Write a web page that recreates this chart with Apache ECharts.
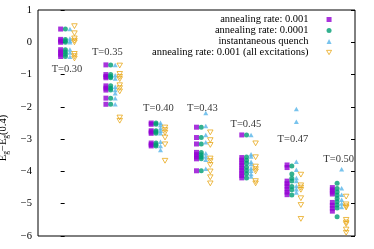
<!DOCTYPE html>
<html>
<head>
<meta charset="utf-8">
<script src="https://cdn.jsdelivr.net/npm/echarts@6/dist/echarts.min.js"></script>
<style>html,body{margin:0;padding:0;background:#fff}#c{width:374px;height:249px}</style>
</head>
<body>
<div id="c"></div>
<script>
// Temperatures (one group each, in order along the x axis)
const temps = ["T=0.30", "T=0.35", "T=0.40", "T=0.43", "T=0.45", "T=0.47", "T=0.50"];
const seriesNames = ["annealing rate: 0.001", "annealing rate: 0.0001", "instantaneous quench", "annealing rate: 0.001 (all excitations)"];
const yTicks = [1, 0, -1, -2, -3, -4, -5, -6];

// E_g - E_g(0.4) values, per temperature group
const rate001 = [
  [0.41, 0.09, 0.04, 0.0, -0.23, -0.3, -0.37, -0.44],
  [-0.7, -1.0, -1.06, -1.1, -1.35, -1.42, -1.48, -1.73, -1.92],
  [-2.5, -2.54, -2.74, -2.78, -2.82, -3.12, -3.17, -3.21],
  [-2.63, -2.95, -3.15, -3.41, -3.48, -3.55, -3.61, -3.98],
  [-2.87, -3.57, -3.65, -3.73, -3.81, -3.89, -3.97, -4.05, -4.13, -4.2],
  [-3.8, -3.88, -4.3, -4.38, -4.46, -4.55, -4.64, -4.72],
  [-4.5, -4.57, -4.64, -4.7, -4.96, -5.05, -5.14, -5.23]
];
const rate0001 = [
  [0.41, 0.09, 0.04, 0.0, -0.23, -0.3, -0.37, -0.44],
  [-0.7, -1.0, -1.06, -1.1, -1.35, -1.42, -1.48, -1.73, -1.92],
  [-2.5, -2.54, -2.74, -2.78, -2.82, -3.12, -3.17, -3.21],
  [-2.63, -2.95, -3.15, -3.41, -3.48, -3.55, -3.61, -3.98],
  [-2.87, -3.55, -3.65, -3.75, -3.87, -3.97, -4.07, -4.2],
  [-3.83, -4.08, -4.21, -4.3, -4.47, -4.57, -4.73],
  [-4.37, -4.53, -4.64, -4.74, -4.84, -4.94, -5.04, -5.13, -5.4]
];
const quench = [
  [0.41, 0.12, 0.05, 0.0, -0.22, -0.32, -0.45],
  [-0.7, -1.02, -1.12, -1.38, -1.48, -1.58, -1.73, -1.92],
  [-2.49, -2.56, -2.66, -2.74, -2.82, -3.08, -3.21, -3.34],
  [-2.19, -2.59, -2.87, -3.1, -3.44, -3.54, -3.64, -3.92],
  [-2.87, -3.47, -3.54, -3.7, -3.77, -3.9, -3.98, -4.08, -4.16],
  [-2.07, -2.46, -3.7, -3.95, -4.2, -4.3, -4.45, -4.55, -4.65],
  [-3.93, -4.52, -4.72, -4.88, -4.99, -5.1]
];
const allExc = [
  [0.5, 0.28, 0.12, 0.05, 0.0, -0.36, -0.43, -0.5],
  [-0.72, -0.98, -1.07, -1.14, -1.33, -1.42, -1.52, -2.33, -2.43],
  [-2.64, -2.72, -2.8, -2.95, -3.16, -3.67],
  [-2.79, -3.03, -3.18, -3.6, -3.68, -3.8, -4.0, -4.18, -4.37],
  [-3.13, -3.56, -3.85, -3.93, -4.0, -4.3, -4.37],
  [-4.1, -4.43, -4.5, -4.57, -4.83, -5.04, -5.47],
  [-4.78, -5.02, -5.08, -5.12, -5.5, -5.58, -5.63, -5.8, -5.9]
];
// Temperature label anchors (group-index, value)
const labelX = [0.14, 1.03, 2.16, 3.13, 4.09, 5.13, 6.14];
const labelY = [-0.83, -0.32, -2.03, -2.03, -2.53, -3.0, -3.61];

const serif = "'Liberation Serif','DejaVu Serif',serif";
const colors = ['#9400d3', '#009e73', '#56b4e9', '#e69f00'];
const offsets = [0, 0.105, 0.205, 0.305];
const invTri = 'path://M0,0L10,0L5,8.66Z';
const symbols = ['rect', 'circle', 'triangle', invTri];
const sizes = [5, 5, [5, 4.5], [5.5, 4.8]];
const sets = [rate001, rate0001, quench, allExc];

function pts(set, off) {
  const out = [];
  set.forEach((vals, i) => vals.forEach(v => out.push([i + off, v])));
  return out;
}

const series = sets.map((set, k) => ({
  name: seriesNames[k],
  type: 'scatter',
  data: pts(set, offsets[k]),
  symbol: symbols[k],
  symbolSize: sizes[k],
  itemStyle: k === 3 ? {color: 'rgba(0,0,0,0)', borderColor: colors[k], borderWidth: 0.9} : {color: colors[k]},
  z: 2 + k
}));
series.push({
  type: 'scatter',
  data: temps.map((t, i) => ({name: t, value: [labelX[i], labelY[i]]})),
  symbolSize: 0,
  silent: true,
  label: {show: true, position: 'inside', formatter: p => p.name, fontFamily: serif, fontSize: 10.5, color: '#000'},
  z: 10
});

const chart = echarts.init(document.getElementById('c'), null, {renderer: 'canvas'});
chart.setOption({
  animation: false,
  grid: {left: 38, right: 19, top: 10, bottom: 13, show: true, borderColor: '#000', borderWidth: 1,
    backgroundColor: 'transparent', containLabel: false, outerBoundsMode: 'none'},
  legend: {
    orient: 'vertical', right: 37, top: 9, align: 'right',
    itemWidth: 5, itemHeight: 5, itemGap: 0,
    textStyle: {fontFamily: serif, fontSize: 10.5, color: '#000', lineHeight: 11, padding: [0, 13, 0, 0]},
    data: seriesNames.map((n, k) => ({
      name: n,
      icon: k === 0 ? 'rect' : k === 1 ? 'circle' : k === 2 ? 'triangle' : invTri,
      itemStyle: k === 3 ? {color: 'rgba(0,0,0,0)', borderColor: colors[k], borderWidth: 0.9} : {color: colors[k]}
    }))
  },
  xAxis: {type: 'value', min: -0.5, max: 6.5, show: false},
  yAxis: [
    {
      type: 'value', min: -6, max: 1, interval: 1, position: 'left',
      axisLine: {show: false}, splitLine: {show: false},
      axisTick: {show: true, inside: true, length: 4, lineStyle: {color: '#000'}},
      axisLabel: {margin: 6, fontFamily: serif, fontSize: 10.5, color: '#000',
        formatter: v => (v < 0 ? '\u2212' + Math.abs(v) : String(v))},
      name: '{n|E}{s|g}{n|\u2212E}{s|g}{n|(0.4)}',
      nameLocation: 'middle', nameGap: 26, nameRotate: 90,
      nameTextStyle: {
        padding: [0, 30, 0, 0],
        rich: {
          n: {fontFamily: serif, fontSize: 10.5, color: '#000', lineHeight: 14, verticalAlign: 'middle'},
          s: {fontFamily: serif, fontSize: 7.5, color: '#000', lineHeight: 14, verticalAlign: 'bottom', padding: [9, 0, 0, 0]}
        }
      }
    },
    {
      type: 'value', min: -6, max: 1, interval: 1, position: 'right',
      axisLine: {show: false}, splitLine: {show: false}, axisLabel: {show: false},
      axisTick: {show: true, inside: true, length: 4, lineStyle: {color: '#000'}}
    }
  ],
  series: series
});
</script>
</body>
</html>
